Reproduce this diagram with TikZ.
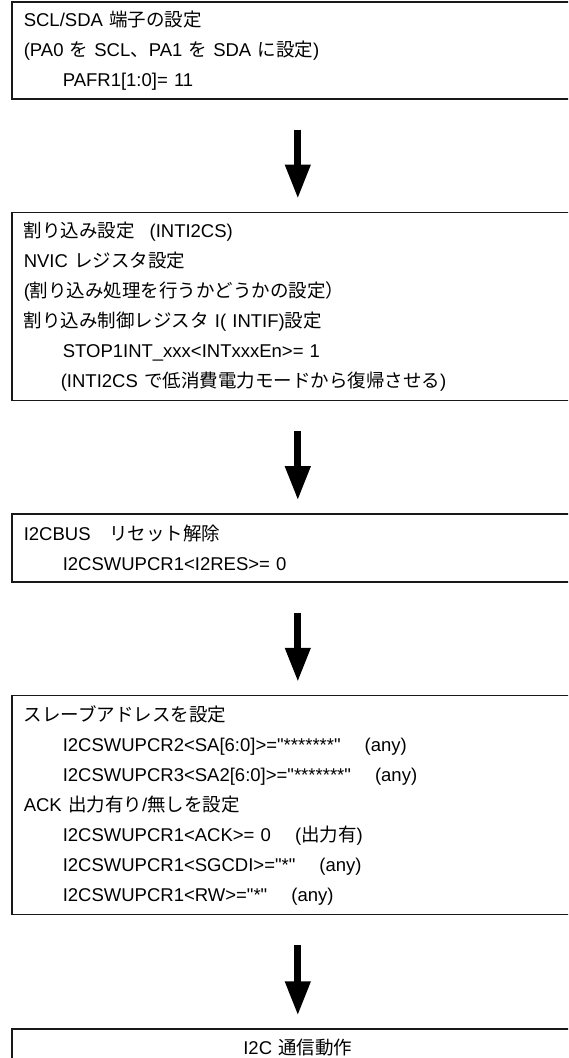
\documentclass[tikz,border=0pt]{standalone}
\usepackage{fontspec}
\setmainfont{Liberation Sans}
\newfontfamily\jpfont{Noto Sans CJK JP}
\usetikzlibrary{positioning,arrows.meta}
\newcommand{\ja}[1]{{\jpfont #1}}
\newcommand{\ind}{\hspace*{39pt}}
\newcommand{\qq}{\textquotedbl}
\tikzset{
  every node/.style={font=\fontsize{18.5}{30}\selectfont},
  % --- nodes
  box/.style  = {draw=black!90, line width=1.6pt, fill=white, align=left,
                 text width=548pt, inner xsep=12pt, inner ysep=4pt},
  boxc/.style = {box, align=center},
  % --- edges
  flow/.style = {line width=7pt, -{Triangle[length=34pt,width=24pt]},
                 shorten <=30pt, shorten >=13pt},
}

\begin{document}
\begin{tikzpicture}[x=1pt,y=1pt]
  \useasboundingbox (0,0) rectangle (568,-1058);
  \clip (0,0) rectangle (568,-1058);
  \node[box,minimum height=97pt,anchor=north west] (pin) at (11,-1)
    {SCL/SDA \ja{端子の設定}\\
     (PA0 \ja{を} SCL\ja{、}PA1 \ja{を} SDA \ja{に設定})\\
     \ind PAFR1[1:0]= 11};
  \node[box,minimum height=188pt,below=112pt of pin] (irq)
    {\ja{割り込み設定}\hspace{0.8em}(INTI2CS)\\
     NVIC \ja{レジスタ設定}\\
     (\ja{割り込み処理を行うかどうかの設定）}\\
     \ja{割り込み制御レジスタ} I( INTIF)\ja{設定}\\
     \ind STOP1INT\_xxx<INTxxxEn>= 1\\
     \hspace*{37pt}(INTI2CS \ja{で低消費電力モードから復帰させる})};
  \node[box,minimum height=68pt,below=112pt of irq] (rst)
    {I2CBUS\hspace{1em}\ja{リセット解除}\\
     \ind I2CSWUPCR1<I2RES>= 0};
  \node[box,minimum height=219pt,below=112pt of rst] (addr)
    {\ja{スレーブアドレスを設定}\\
     \ind I2CSWUPCR2<SA[6:0]>=\qq*******\qq\hspace{1.3em}(any)\\
     \ind I2CSWUPCR3<SA2[6:0]>=\qq*******\qq\hspace{1.3em}(any)\\
     ACK \ja{出力有り}/\ja{無しを設定}\\
     \ind I2CSWUPCR1<ACK>= 0\hspace{1.3em}(\ja{出力有})\\
     \ind I2CSWUPCR1<SGCDI>=\qq*\qq\hspace{1.3em}(any)\\
     \ind I2CSWUPCR1<RW>=\qq*\qq\hspace{1.3em}(any)};
  \node[boxc,minimum height=36pt,below=113pt of addr] (comm)
    {I2C \ja{通信動作}};
  \draw[flow] (pin) -- (irq);
  \draw[flow] (irq) -- (rst);
  \draw[flow] (rst) -- (addr);
  \draw[flow] (addr) -- (comm);
\end{tikzpicture}
\end{document}
